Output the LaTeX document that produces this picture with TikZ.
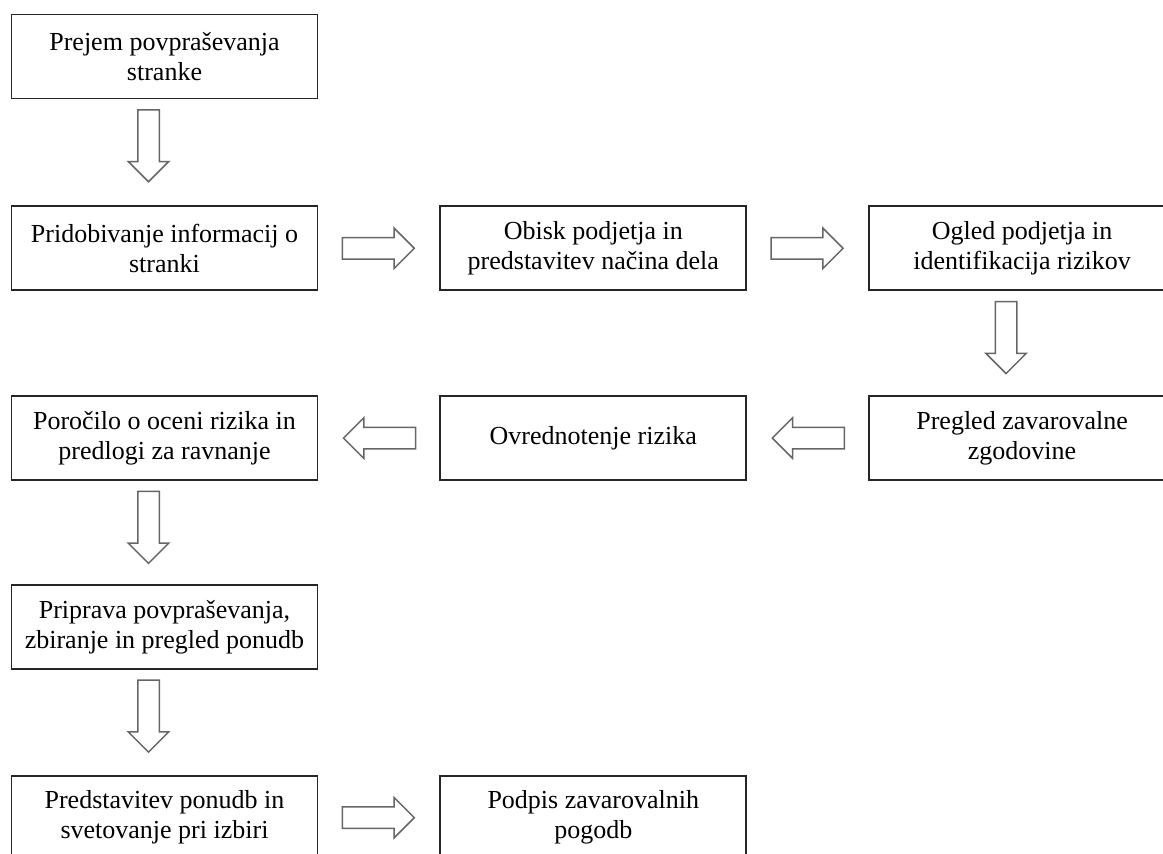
\documentclass[tikz,border=0pt]{standalone}
\usepackage{fontspec}
\setmainfont{Liberation Serif}
\usetikzlibrary{positioning,shapes.arrows}
\tikzset{
  stepbox/.style = {rectangle, draw=black!85, line width=1.8pt, align=center,
    minimum width=306pt, minimum height=84pt, inner sep=0pt,
    font=\fontsize{26}{30}\selectfont},% korak postopka
  blockarr/.style = {single arrow, draw=black!60, line width=1.5pt, fill=white,
    minimum height=72pt, minimum width=38pt, inner sep=10pt,
    single arrow head extend=9.5pt, single arrow tip angle=90},% prazna puscica
  arr_d/.style = {blockarr, shape border rotate=270},% navzdol
  arr_l/.style = {blockarr, shape border rotate=180}% levo
}
\begin{document}
\begin{tikzpicture}
\useasboundingbox (0,0) rectangle (1163pt,-854pt);
\fill [white] (0,0) rectangle (1163pt,-854pt);
\clip (0,0) rectangle (1163pt,-854pt);
% vrstica 1
\node [stepbox] (prejem) at (164.5pt,-56.5pt) {Prejem povpraševanja\\stranke};
% vrstica 2
\node [stepbox, below=106pt of prejem] (pridob) {Pridobivanje informacij o\\stranki};
\node [stepbox, right=121pt of pridob] (obisk) {Obisk podjetja in\\predstavitev načina dela};
\node [stepbox, right=121pt of obisk] (ogled) {Ogled podjetja in\\identifikacija rizikov};
% vrstica 3
\node [stepbox, below=104pt of pridob] (porocilo) {Poročilo o oceni rizika in\\predlogi za ravnanje};
\node [stepbox, right=121pt of porocilo] (ovred) {Ovrednotenje rizika};
\node [stepbox, right=121pt of ovred] (pregled) {Pregled zavarovalne\\zgodovine};
% vrstica 4 in 5
\node [stepbox, below=103pt of porocilo] (priprava) {Priprava povpraševanja,\\zbiranje in pregled ponudb};
\node [stepbox, below=105pt of priprava] (predst) {Predstavitev ponudb in\\svetovanje pri izbiri};
\node [stepbox, right=121pt of predst] (podpis) {Podpis zavarovalnih\\pogodb};
% puscice
\node [arr_d] (a1) at ([xshift=-16pt, yshift=-41pt]prejem.south) {};
\node [blockarr] (a2) at ([xshift=54.5pt]pridob.east) {};
\node [blockarr] (a3) at ([xshift=54.5pt]obisk.east) {};
\node [arr_d] (a4) at ([xshift=-16pt, yshift=-41pt]ogled.south) {};
\node [arr_l] (a5) at ([xshift=-54.5pt]pregled.west) {};
\node [arr_l] (a6) at ([xshift=-54.5pt]ovred.west) {};
\node [arr_d] (a7) at ([xshift=-16pt, yshift=-41pt]porocilo.south) {};
\node [arr_d] (a8) at ([xshift=-16pt, yshift=-41pt]priprava.south) {};
\node [blockarr] (a9) at ([xshift=54.5pt]predst.east) {};
\end{tikzpicture}
\end{document}
